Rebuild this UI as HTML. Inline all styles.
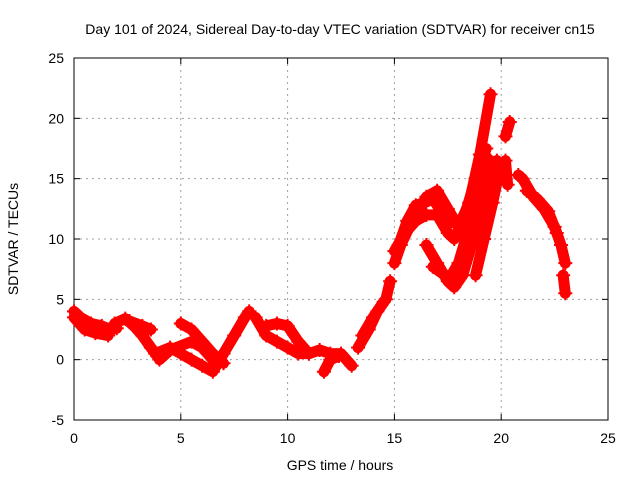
<!DOCTYPE html>
<html><head><meta charset="utf-8"><style>
body{margin:0;background:#fff}
svg{font-family:"Liberation Sans",sans-serif}
</style></head><body>
<svg id="chart" width="640" height="480" viewBox="0 0 640 480">
<text x="340" y="34" text-anchor="middle" font-size="14">Day 101 of 2024, Sidereal Day-to-day VTEC variation (SDTVAR) for receiver cn15</text>
<g id="grid"></g>
<g id="axes"></g>
<g id="series"></g>
<text x="340" y="470" text-anchor="middle" font-size="14">GPS time / hours</text>
<text transform="translate(18,239) rotate(-90)" text-anchor="middle" font-size="14">SDTVAR / TECUs</text>
</svg>
<script>
const xTicks=[0,5,10,15,20,25];
const yTicks=[-5,0,5,10,15,20,25];
const track1=[[0,4],[0.3,3.5],[0.8,3],[1.3,2.8],[1.7,2.5],[2,2.6]];
const track2=[[0,3.5],[0.5,2.5],[1,2.2],[1.6,2]];
const track3=[[1.9,3],[2.4,3.4],[2.8,2.8],[3.2,2],[3.6,1],[3.9,0.3]];
const track4=[[2.6,3.2],[3.2,2.8],[3.6,2.5]];
const track5=[[3.8,0.5],[4.5,1],[5,0.5],[5.5,0],[6,-0.5],[6.5,-1],[7,0.5],[7.5,2],[8,3.5],[8.2,4]];
const track6=[[5,3],[5.5,2.5],[6,1.5],[6.5,0.5],[7,-0.3]];
const track7=[[4,0],[4.5,0.8],[5.5,1.5],[6,1],[6.5,0]];
const track8=[[8.5,3.5],[9,2],[9.5,1.5],[10,1],[10.5,0.5],[11,0.5]];
const track9=[[9,2.8],[9.5,3],[10,2.8],[10.5,1.5],[11,0.5]];
const track10=[[11,0.5],[11.5,0.8],[12,0.5],[12.5,0.5],[13,-0.5]];
const track11=[[11.7,-1],[12,0],[12.4,0.3]];
const track12=[[13.3,1],[13.8,2.5],[14.2,4],[14.6,5],[14.8,6.5]];
const track13=[[13.5,2],[14,3.5],[14.5,4.8]];
const track14=[[15,8],[15.3,9.5],[15.7,11],[16,12],[16.5,13.5],[17,14],[17.5,12.5],[18,11],[18.5,13],[19,17],[19.5,22]];
const track15=[[15,9],[15.5,10.5],[16,11.5],[16.5,12],[17,12],[17.5,10.5],[17.8,10],[18.3,12],[18.8,15],[19.3,17.5]];
const track16=[[16.5,9.5],[17,8],[17.5,6.5],[17.8,6],[18.2,7],[18.7,10],[19.3,14],[19.8,16.5]];
const track17=[[18.8,7],[19.2,10],[19.6,13],[19.9,15.5]];
const track18=[[20.2,18.5],[20.4,19.7]];
const track19=[[20.2,16.5],[20.3,14.5]];
const track20=[[20.8,15.3],[21,15],[21.5,13.5],[22,12.5],[22.5,11],[22.8,9.5],[23,8]];
const track21=[[22.9,7],[23,5.5]];
const track22=[[15.2,9.5],[15.6,11.5],[16,12.8],[16.4,13],[16.8,13.3],[17.2,12.3],[17.6,11.3]];
const track23=[[16.8,7.7],[17.2,7.2],[17.6,6.8],[18,8],[18.5,11],[19,14.5],[19.5,16.5]];
const track24=[[21.2,14],[21.7,13.3],[22.2,12.3],[22.6,10.5]];
const tracks=[track1,track2,track3,track4,track5,track6,track7,track8,track9,track10,track11,track12,track13,track14,track15,track16,track17,track18,track19,track20,track21,track22,track23,track24];
const X0=74,X1=608,Y0=420,Y1=58;
const xs=h=>X0+(h-0)/(25-0)*(X1-X0);
const ys=v=>Y0-(v+5)/30*(Y0-Y1);
const NS='http://www.w3.org/2000/svg';
const grid=document.getElementById('grid'),axes=document.getElementById('axes'),ser=document.getElementById('series');
function mk(tag,p,attrs){const e=document.createElementNS(NS,tag);for(const k in attrs)e.setAttribute(k,attrs[k]);p.appendChild(e);return e;}
xTicks.forEach(t=>{
 const x=xs(t);
 if(t>0&&t<25){const l=mk('line',grid,{x1:x,x2:x,y1:Y1,y2:Y0,stroke:'#a0a0a0','stroke-dasharray':'2,4'});
 
 }
 const tx=mk('text',axes,{x:x,y:Y0+23,'text-anchor':'middle','font-size':14});tx.textContent=t;
 
 
 mk('line',axes,{x1:x,x2:x,y1:Y0,y2:Y0-6,stroke:'#000'});
 mk('line',axes,{x1:x,x2:x,y1:Y1,y2:Y1+6,stroke:'#000'});
});
yTicks.forEach(t=>{
 const y=ys(t);
 if(t>-5&&t<25){const l=mk('line',grid,{x1:X0,x2:X1,y1:y,y2:y,stroke:'#a0a0a0','stroke-dasharray':'2,4'});
 
 }
 const tx=mk('text',axes,{x:X0-10,y:y+5,'text-anchor':'end','font-size':14});tx.textContent=t;
 
 
 mk('line',axes,{x1:X0,x2:X0+6,y1:y,y2:y,stroke:'#000'});
 mk('line',axes,{x1:X1,x2:X1-6,y1:y,y2:y,stroke:'#000'});
});
const fr=mk('rect',axes,{x:X0,y:Y1,width:X1-X0,height:Y0-Y1,fill:'none',stroke:'#000'});


tracks.forEach(tr=>{
 const pl=mk('polyline',ser,{points:tr.map(p=>xs(p[0])+','+ys(p[1])).join(' '),fill:'none',stroke:'#ff0000','stroke-width':11,'stroke-linejoin':'round','stroke-linecap':'round'});
 
 
 tr.forEach(p=>{
  const x=xs(p[0]),y=ys(p[1]);
  const m=mk('path',ser,{d:`M${x-7},${y}H${x+7}M${x},${y-7}V${y+7}`,stroke:'#ff0000','stroke-width':2});
  
  
 });
});
</script>
</body></html>
